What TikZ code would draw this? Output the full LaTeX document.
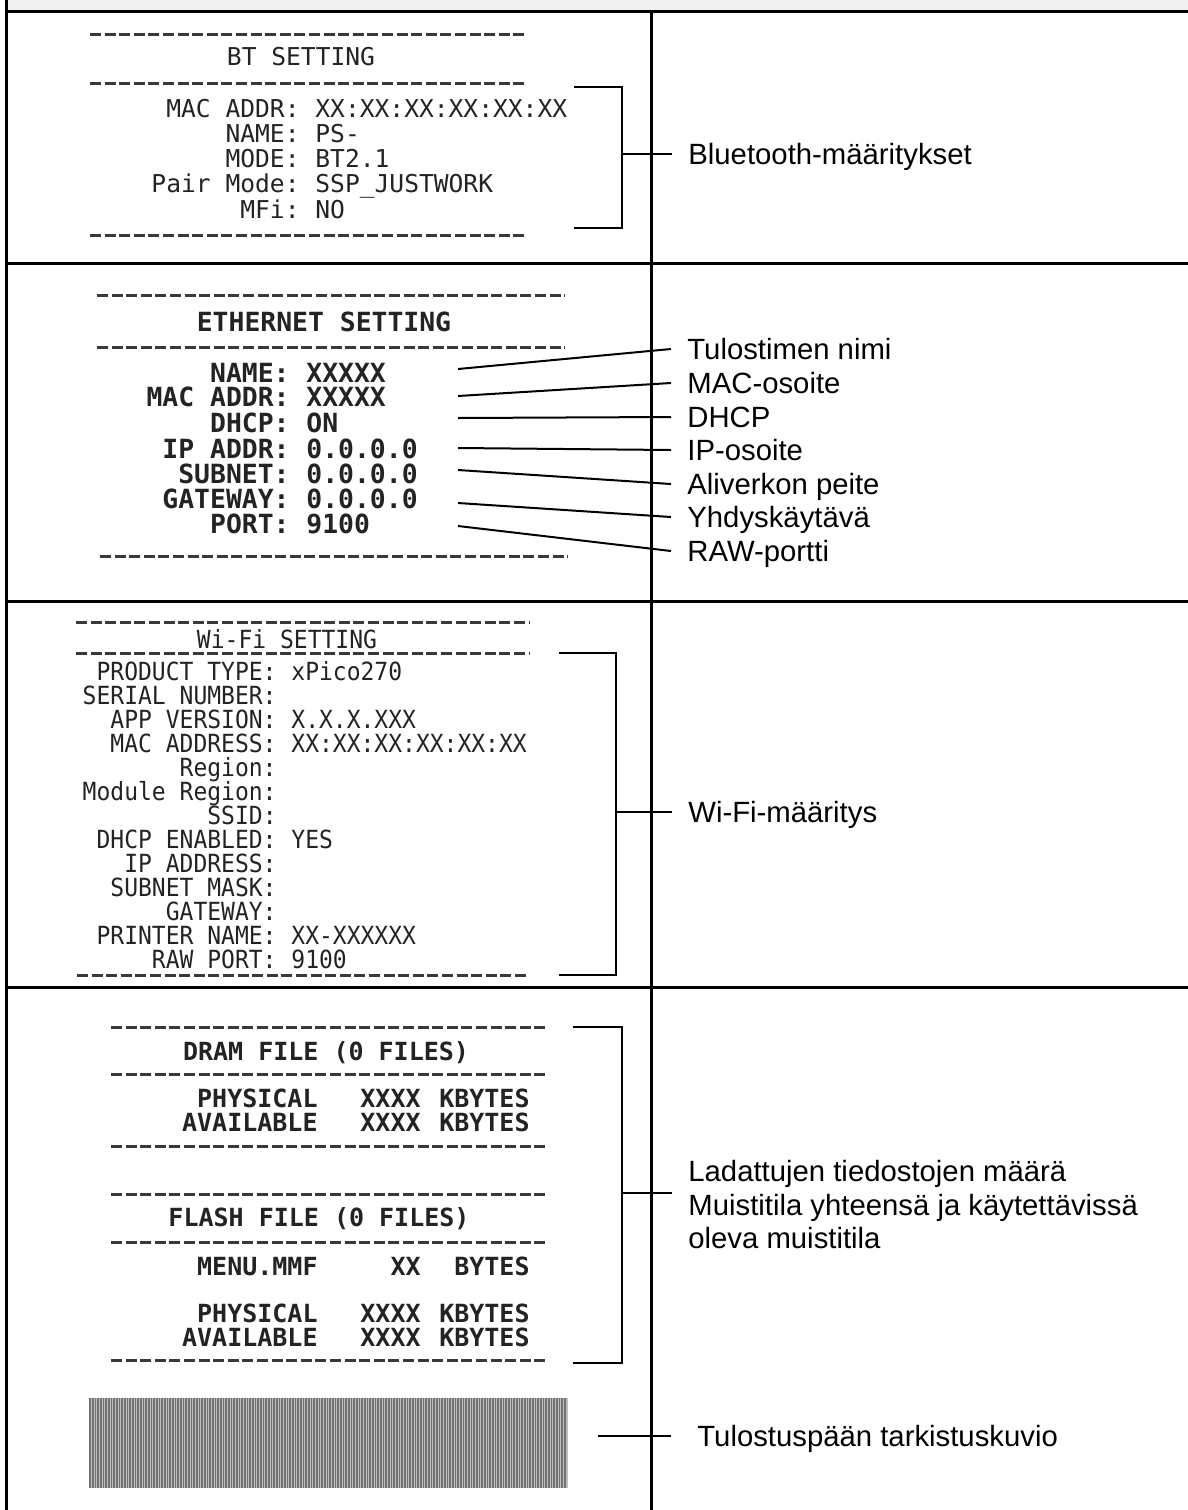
\documentclass[tikz,border=0pt]{standalone}
\usepackage{fontspec}
\setmainfont{Liberation Sans}
\newfontfamily\prmono{DejaVu Sans Mono}
\newfontfamily\prnarrow[FakeStretch=0.92]{DejaVu Sans Mono}
\definecolor{bandgray}{RGB}{240,240,240}
\definecolor{ink}{RGB}{35,35,35}

\begin{document}
\begin{tikzpicture}[x=0.5pt, y=-0.5pt,
    tabline/.style={line width=1.5pt, line cap=rect},
    leader/.style={line width=1pt},
    dashrule/.style={line width=1.5pt, ink!90, dash pattern=on 5.5pt off 1.8pt},
    lbl/.style={font=\fontsize{14.65}{16.8}\selectfont, anchor=west, inner xsep=8pt, inner ysep=0pt, text height=10.5pt, text depth=0pt},
    btkey/.style={font={\prmono\fontsize{12.3}{14}\selectfont}, text=ink, inner sep=0pt, text height=9pt, text depth=0pt, anchor=east},
    btval/.style={btkey, anchor=west},
    ethkey/.style={font={\prmono\bfseries\fontsize{13.2}{15}\selectfont}, text=ink, inner sep=0pt, text height=9.6pt, text depth=0pt, anchor=east},
    ethval/.style={ethkey, anchor=west},
    wfkey/.style={font={\prnarrow\fontsize{12.5}{14}\selectfont}, text=ink, inner sep=0pt, text height=9.1pt, text depth=0pt, anchor=east},
    wfval/.style={wfkey, anchor=west},
    flcell/.style={font={\prmono\bfseries\fontsize{12.5}{14}\selectfont}, text=ink, inner sep=0pt, text height=9.1pt, text depth=0pt, anchor=east},
    tpline/.style={line width=0.4pt, black!55}
]
\useasboundingbox (0,0) rectangle (1188,1510);

% Table
\fill[bandgray] (7,0) rectangle (1188,10);
\draw[tabline] (6,0) -- (6,1510);
\draw[tabline] (6,11) -- (1188,11);
\draw[tabline] (651,11) -- (651,1510);
\foreach \y in {263,601,987}
    \draw[tabline] (6,\y) -- (1188,\y);

% BT setting
\draw[dashrule] (90,34) -- (527,34);
\node[btkey, anchor=center] (bt-title) at (301,56) {BT SETTING};
\draw[dashrule] (90,83) -- (527,83);
\foreach \y/\k/\v [count=\i] in {108/MAC ADDR:/XX:XX:XX:XX:XX:XX, 133/NAME:/PS-, 158/MODE:/BT2.1, 183/Pair Mode:/SSP\_JUSTWORK, 209/MFi:/NO} {
    \node[btkey] (bt-k\i) at (300,\y) {\k};
    \node[btval] (bt-v\i) at (315,\y) {\v};
}
\draw[dashrule] (90,235) -- (527,235);
\draw[leader] (574,87) -- (622,87) -- (622,228) -- (574,228);
\coordinate (bt-br) at (622,154);
\node[lbl] (bt-lab) at (672,154) {Bluetooth-määritykset};
\draw[leader] (bt-br) -- (bt-lab.west);

% Ethernet setting
\draw[dashrule] (97,295) -- (565,295);
\node[ethkey, anchor=center] (eth-title) at (324,322) {ETHERNET SETTING};
\draw[dashrule] (97,347) -- (565,347);
\foreach \y/\k/\v [count=\i] in {373/NAME:/XXXXX, 397/MAC ADDR:/XXXXX, 423/DHCP:/ON, 449/IP ADDR:/0.0.0.0, 474/SUBNET:/0.0.0.0, 499/GATEWAY:/0.0.0.0, 524/PORT:/9100} {
    \node[ethkey] (eth-k\i) at (290,\y) {\k};
    \node[ethval] (eth-v\i) at (306,\y) {\v};
}
\draw[dashrule] (100,556) -- (568,556);
\foreach \ya/\yb/\t [count=\i] in {369/349/Tulostimen nimi, 396/383/MAC-osoite, 418/417/DHCP, 448/450/IP-osoite, 470/484/Aliverkon peite, 503/517/Yhdyskäytävä, 526/551/RAW-portti} {
    \coordinate (eth-p\i) at (458,\ya);
    \node[lbl] (eth-lab\i) at (671,\yb) {\t};
    \draw[leader] (eth-p\i) -- (eth-lab\i.west);
}

% Wi-Fi setting
\draw[dashrule] (76,622) -- (529,622);
\node[wfkey, anchor=center] (wf-title) at (287,639) {Wi-Fi SETTING};
\draw[dashrule] (76,653) -- (529,653);
\foreach \k/\v [count=\i] in {PRODUCT TYPE:/xPico270, SERIAL NUMBER:/{}, APP VERSION:/X.X.X.XXX, MAC ADDRESS:/XX:XX:XX:XX:XX:XX, Region:/{}, Module Region:/{}, SSID:/{}, DHCP ENABLED:/YES, IP ADDRESS:/{}, SUBNET MASK:/{}, GATEWAY:/{}, PRINTER NAME:/XX-XXXXXX, RAW PORT:/9100} {
    \node[wfkey] (wf-k\i) at (277,{647+24*\i}) {\k};
    \node[wfval] (wf-v\i) at (291,{647+24*\i}) {\v};
}
\draw[dashrule] (77,975) -- (529,975);
\draw[leader] (559,653) -- (616,653) -- (616,975) -- (559,975);
\coordinate (wf-br) at (616,812);
\node[lbl] (wf-lab) at (672,812) {Wi-Fi-määritys};
\draw[leader] (wf-br) -- (wf-lab.west);

% Files
\foreach \y in {1027,1074,1146,1194,1242,1360}
    \draw[dashrule] (111,\y) -- (546,\y);
\node[flcell, anchor=center] (dram-title) at (326,1051) {DRAM FILE (0 FILES)};
\node[flcell, anchor=center] (flash-title) at (319,1217) {FLASH FILE (0 FILES)};
\foreach \y/\a/\b/\c [count=\i] in {1098/PHYSICAL/XXXX/KBYTES, 1122/AVAILABLE/XXXX/KBYTES, 1266/MENU.MMF/XX/BYTES, 1313/PHYSICAL/XXXX/KBYTES, 1337/AVAILABLE/XXXX/KBYTES} {
    \node[flcell] (fl-a\i) at (318,\y) {\a};
    \node[flcell] (fl-b\i) at (421,\y) {\b};
    \node[flcell] (fl-c\i) at (530,\y) {\c};
}
\draw[leader] (573,1027) -- (622,1027) -- (622,1363) -- (573,1363);
\coordinate (fl-br) at (622,1193);
\coordinate (fl-end) at (672,1193);
\draw[leader] (fl-br) -- (fl-end);
\node[lbl, anchor=north west, inner xsep=0pt, align=left, text height=, text depth=] (fl-lab) at (688,1160) {Ladattujen tiedostojen määrä\\Muistitila yhteensä ja käytettävissä\\oleva muistitila};

% Print head test pattern
\fill[black!25] (89,1398) rectangle (568,1488);
\foreach \k in {0,...,298}
    \draw[tpline] ({89+1.6*\k},1398) -- ({89+1.6*\k},1488);
\coordinate (tp-br) at (598,1436);
\node[lbl, inner xsep=13pt] (tp-lab) at (671,1436) {Tulostuspään tarkistuskuvio};
\draw[leader] (tp-br) -- (tp-lab.west);
\end{tikzpicture}
\end{document}
